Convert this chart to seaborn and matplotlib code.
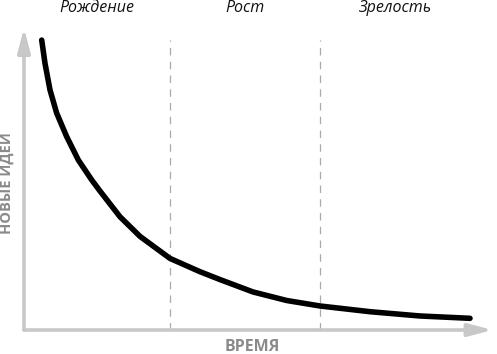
import matplotlib
matplotlib.use("Agg")
import matplotlib.pyplot as plt
import seaborn as sns
import pandas as pd

# Data (time in % of axis span, new ideas in % of axis height)
time_vals = [3.76, 4.46, 5.52, 6.94, 9.07, 11.53, 14.37, 16.14, 20.38, 24.63,
             31.0, 37.37, 41.61, 48.62, 55.77, 62.85, 73.46, 84.08, 94.69]
idea_vals = [96.0, 88.3, 79.5, 71.8, 64.0, 56.3, 49.7, 46.0, 37.5, 31.0,
             23.7, 19.3, 16.7, 12.6, 9.77, 7.95, 6.06, 4.64, 3.87]
stage_names = ["Рождение", "Рост", "Зрелость"]
stage_bounds = [0.0, 31.0, 62.8, 94.7]
x_label = "ВРЕМЯ"
y_label = "НОВЫЕ ИДЕИ"

sns.set_theme(style="white")
plt.rcParams["font.family"] = ["Open Sans", "DejaVu Sans"]

W, H = 497, 354
fig = plt.figure(figsize=(W / 100, H / 100), dpi=100)
left, right, bottom, top = 24, 495, 330, 28
ax = fig.add_axes([left / W, (H - bottom) / H, (right - left) / W, (bottom - top) / H])
ax.set_xlim(0, 100)
ax.set_ylim(0, 100)
for s in ax.spines.values():
    s.set_visible(False)
ax.set_xticks([])
ax.set_yticks([])
ax.set_facecolor("white")

df = pd.DataFrame({"t": time_vals, "v": idea_vals})

# stage boundaries
for b in stage_bounds[1:-1]:
    ax.plot([b, b], [0, 96], color="#aaaaaa", lw=0.9, dashes=(6, 5), zorder=1)

# axes arrows
gray = "#c8c8c8"
ap = dict(arrowstyle="-|>,head_length=1.45,head_width=0.38", lw=2.6, color=gray,
          mutation_scale=10, shrinkA=0, shrinkB=0)
ax.annotate("", xy=(0, 1.0), xytext=(0, 0), xycoords="axes fraction", arrowprops=ap, zorder=2)
ax.annotate("", xy=(0.995, 0), xytext=(0, 0), xycoords="axes fraction", arrowprops=ap, zorder=2)

# curve
sns.lineplot(data=df, x="t", y="v", ax=ax, color="black", lw=4.0, zorder=3,
             solid_capstyle="round", solid_joinstyle="round")
ax.set_xlabel("")
ax.set_ylabel("")

# stage labels
for i, name in enumerate(stage_names):
    mid = (stage_bounds[i] + stage_bounds[i + 1]) / 2
    fig.text((left + mid / 100 * (right - left)) / W, 1 - 8 / H, name,
             ha="center", va="center", fontsize=11.5, style="italic", color="#111111")

fig.text(252 / W, 1 - 347 / H, x_label, ha="center", va="center", fontsize=11.5,
         fontweight="bold", color="#8a8a8a")
fig.text(7 / W, 1 - 183 / H, y_label, ha="center", va="center", fontsize=10.5,
         fontweight="bold", color="#8a8a8a", rotation=90)

fig.savefig("out.png", dpi=100, facecolor="white")
